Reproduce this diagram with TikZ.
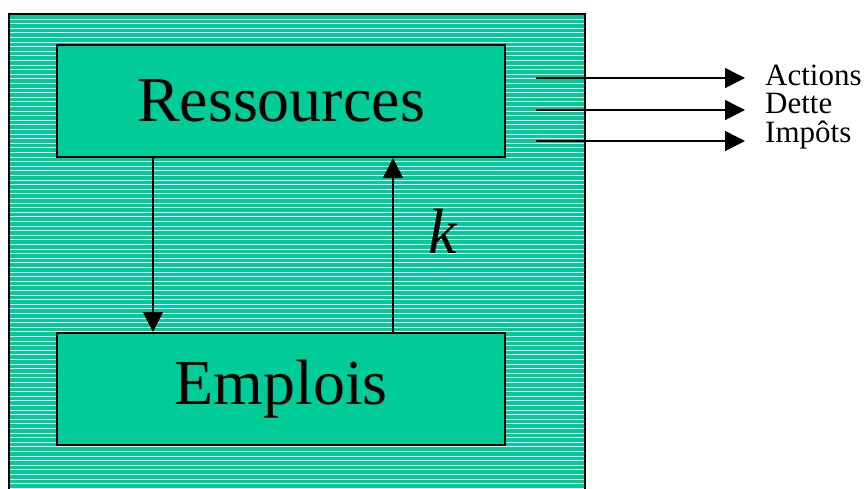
\documentclass[tikz,border=0pt]{standalone}
\usepackage{fontspec}
\setmainfont{Liberation Serif}
\usetikzlibrary{arrows.meta}
\definecolor{teal1}{HTML}{00CC99}
\tikzset{
  box/.style={draw=black, line width=2pt, fill=teal1, minimum width=448pt, minimum height=112pt, inner sep=0pt, font=\fontsize{64}{70}\selectfont},
  flow/.style={line width=1.5pt, -{Triangle[width=20pt,length=20pt]}},
  outflow/.style={line width=1.5pt, -{Triangle[width=20pt,length=20pt]}},
  lbl/.style={anchor=base west, inner sep=0pt, font=\fontsize{31}{31}\selectfont}
}
\begin{document}
\begin{tikzpicture}[x=1pt,y=-1pt]
\useasboundingbox (0,0) rectangle (864,488);
\clip (0,0) rectangle (864,488);
% outer hatched block
\fill[teal1] (8.5,13.5) rectangle (584.5,495);
\foreach \i in {0,...,104} {
  \draw[white, line width=1pt] (9.5,19+4.6*\i) -- (583.5,19+4.6*\i);
}
\draw[black, line width=2pt] (8.5,495) -- (8.5,13.5) -- (584.5,13.5) -- (584.5,495);
% inner boxes
\node[box] (ressources) at (281,101) {Ressources};
\node[box] (emplois) at (281,389) {Emplois};
% internal flows
\draw[flow] (ressources.south -| 153,0) -- (emplois.north -| 153,0);
\draw[flow] (emplois.north -| 393,0) -- (ressources.south -| 393,0);
\node[inner sep=0pt, font=\fontsize{64}{70}\selectfont\itshape] (k) at (443,231) {k};
% outgoing flows
\coordinate (a1) at (536,78);
\coordinate (a2) at (536,110);
\coordinate (a3) at (536,141);
\coordinate (b1) at (745,78);
\coordinate (b2) at (745,110);
\coordinate (b3) at (745,141);
\draw[outflow] (a1) -- (b1);
\draw[outflow] (a2) -- (b2);
\draw[outflow] (a3) -- (b3);
\node[lbl] (actions) at (765,85) {Actions};
\node[lbl] (dette) at (765,113) {Dette};
\node[lbl] (impots) at (765,142) {Impôts};
\end{tikzpicture}
\end{document}
